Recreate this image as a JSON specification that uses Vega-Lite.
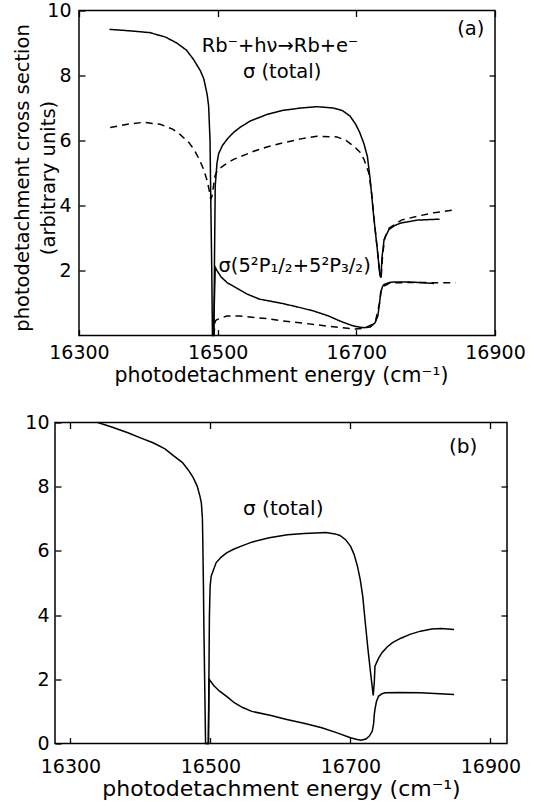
{
  "$schema": "https://vega.github.io/schema/vega-lite/v6.json",
  "padding": {"left": 12, "top": 1.5, "right": 0, "bottom": 0},
  "bounds": "flush",
  "spacing": 87,
  "config": {
    "font": "DejaVu Sans",
    "view": {"stroke": null},
    "axis": {"domain": false, "grid": false, "ticks": true, "tickColor": "black", "tickWidth": 1.3, "tickSize": -6, "labelColor": "black", "labelFontSize": 19, "labelFont": "DejaVu Sans", "titleFont": "DejaVu Sans", "titleFontWeight": "normal", "titleColor": "black", "labelFlush": false, "labelOverlap": false}
  },
  "datasets": {
    "lines_a": [
      {"s":"total","E":16344,"v":9.42},{"s":"total","E":16370,"v":9.38},{"s":"total","E":16402,"v":9.32},{"s":"total","E":16425,"v":9.18},{"s":"total","E":16441,"v":9.0},{"s":"total","E":16455,"v":8.78},{"s":"total","E":16465,"v":8.5},{"s":"total","E":16475,"v":8.15},{"s":"total","E":16480,"v":7.9},{"s":"total","E":16485,"v":7.4},{"s":"total","E":16487,"v":7.05},{"s":"total","E":16489,"v":6.0},{"s":"total","E":16490,"v":4.3},{"s":"total","E":16491.5,"v":2.0},{"s":"total","E":16492.5,"v":0},{"s":"total","E":16494.5,"v":0},{"s":"total","E":16495.5,"v":2.5},{"s":"total","E":16496.5,"v":4.6},{"s":"total","E":16499,"v":5.3},{"s":"total","E":16501.5,"v":5.6},{"s":"total","E":16507,"v":5.85},{"s":"total","E":16514,"v":6.05},{"s":"total","E":16523,"v":6.25},{"s":"total","E":16532,"v":6.4},{"s":"total","E":16547,"v":6.6},{"s":"total","E":16571,"v":6.8},{"s":"total","E":16595,"v":6.93},{"s":"total","E":16620,"v":7.0},{"s":"total","E":16643,"v":7.04},{"s":"total","E":16667,"v":7.0},{"s":"total","E":16680,"v":6.92},{"s":"total","E":16691,"v":6.75},{"s":"total","E":16699,"v":6.5},{"s":"total","E":16705,"v":6.24},{"s":"total","E":16711,"v":5.9},{"s":"total","E":16716,"v":5.5},{"s":"total","E":16720,"v":4.8},{"s":"total","E":16725,"v":3.67},{"s":"total","E":16730,"v":2.7},{"s":"total","E":16734,"v":1.85},{"s":"total","E":16735.5,"v":1.78},{"s":"total","E":16737,"v":2.4},{"s":"total","E":16740,"v":2.95},{"s":"total","E":16747,"v":3.26},{"s":"total","E":16755,"v":3.38},{"s":"total","E":16764,"v":3.46},{"s":"total","E":16788,"v":3.55},{"s":"total","E":16820,"v":3.58},
      {"s":"total_alt","E":16345,"v":6.4},{"s":"total_alt","E":16370,"v":6.5},{"s":"total_alt","E":16393,"v":6.56},{"s":"total_alt","E":16417,"v":6.5},{"s":"total_alt","E":16435,"v":6.35},{"s":"total_alt","E":16446,"v":6.18},{"s":"total_alt","E":16458,"v":5.95},{"s":"total_alt","E":16466,"v":5.72},{"s":"total_alt","E":16474,"v":5.4},{"s":"total_alt","E":16480,"v":5.1},{"s":"total_alt","E":16485,"v":4.75},{"s":"total_alt","E":16488.5,"v":4.4},{"s":"total_alt","E":16490,"v":4.2},{"s":"total_alt","E":16492,"v":4.3},{"s":"total_alt","E":16494,"v":4.6},{"s":"total_alt","E":16496,"v":4.9},{"s":"total_alt","E":16500,"v":5.1},{"s":"total_alt","E":16510,"v":5.25},{"s":"total_alt","E":16523,"v":5.42},{"s":"total_alt","E":16552,"v":5.67},{"s":"total_alt","E":16571,"v":5.8},{"s":"total_alt","E":16595,"v":5.93},{"s":"total_alt","E":16620,"v":6.05},{"s":"total_alt","E":16643,"v":6.13},{"s":"total_alt","E":16672,"v":6.11},{"s":"total_alt","E":16685,"v":6.0},{"s":"total_alt","E":16696,"v":5.83},{"s":"total_alt","E":16705,"v":5.65},{"s":"total_alt","E":16711,"v":5.42},{"s":"total_alt","E":16718,"v":5.0},{"s":"total_alt","E":16722,"v":4.4},{"s":"total_alt","E":16726,"v":3.5},{"s":"total_alt","E":16730,"v":2.7},{"s":"total_alt","E":16734,"v":1.9},{"s":"total_alt","E":16736,"v":1.85},{"s":"total_alt","E":16738,"v":2.5},{"s":"total_alt","E":16741,"v":3.0},{"s":"total_alt","E":16747,"v":3.3},{"s":"total_alt","E":16765,"v":3.55},{"s":"total_alt","E":16788,"v":3.67},{"s":"total_alt","E":16812,"v":3.78},{"s":"total_alt","E":16841,"v":3.86},
      {"s":"partial","E":16494,"v":0},{"s":"partial","E":16496.5,"v":2.1},{"s":"partial","E":16499,"v":2.0},{"s":"partial","E":16505,"v":1.8},{"s":"partial","E":16514,"v":1.62},{"s":"partial","E":16528,"v":1.45},{"s":"partial","E":16542,"v":1.28},{"s":"partial","E":16560,"v":1.12},{"s":"partial","E":16590,"v":1.0},{"s":"partial","E":16615,"v":0.88},{"s":"partial","E":16639,"v":0.75},{"s":"partial","E":16660,"v":0.6},{"s":"partial","E":16677,"v":0.44},{"s":"partial","E":16692,"v":0.32},{"s":"partial","E":16701,"v":0.27},{"s":"partial","E":16711,"v":0.24},{"s":"partial","E":16720,"v":0.26},{"s":"partial","E":16727,"v":0.39},{"s":"partial","E":16731,"v":0.6},{"s":"partial","E":16733.5,"v":1.0},{"s":"partial","E":16735,"v":1.31},{"s":"partial","E":16738,"v":1.52},{"s":"partial","E":16740,"v":1.57},{"s":"partial","E":16749,"v":1.64},{"s":"partial","E":16765,"v":1.65},{"s":"partial","E":16783,"v":1.64},{"s":"partial","E":16812,"v":1.6},
      {"s":"partial_alt","E":16494.5,"v":0},{"s":"partial_alt","E":16496.5,"v":0.45},{"s":"partial_alt","E":16499,"v":0.49},{"s":"partial_alt","E":16513,"v":0.6},{"s":"partial_alt","E":16530,"v":0.6},{"s":"partial_alt","E":16542,"v":0.58},{"s":"partial_alt","E":16570,"v":0.52},{"s":"partial_alt","E":16590,"v":0.46},{"s":"partial_alt","E":16615,"v":0.4},{"s":"partial_alt","E":16639,"v":0.34},{"s":"partial_alt","E":16670,"v":0.26},{"s":"partial_alt","E":16696,"v":0.2},{"s":"partial_alt","E":16711,"v":0.22},{"s":"partial_alt","E":16727,"v":0.38},{"s":"partial_alt","E":16733.5,"v":1.0},{"s":"partial_alt","E":16736,"v":1.4},{"s":"partial_alt","E":16740,"v":1.52},{"s":"partial_alt","E":16749,"v":1.62},{"s":"partial_alt","E":16783,"v":1.63},{"s":"partial_alt","E":16843,"v":1.62}
    ],
    "lines_b": [
      {"s":"total","E":16339,"v":10.0},{"s":"total","E":16360,"v":9.85},{"s":"total","E":16382,"v":9.68},{"s":"total","E":16400,"v":9.52},{"s":"total","E":16418,"v":9.37},{"s":"total","E":16435,"v":9.18},{"s":"total","E":16448,"v":8.95},{"s":"total","E":16460,"v":8.75},{"s":"total","E":16468,"v":8.53},{"s":"total","E":16475,"v":8.3},{"s":"total","E":16481,"v":8.02},{"s":"total","E":16485,"v":7.7},{"s":"total","E":16487,"v":7.49},{"s":"total","E":16488.5,"v":7.0},{"s":"total","E":16489,"v":6.36},{"s":"total","E":16490,"v":4.8},{"s":"total","E":16490.5,"v":3.76},{"s":"total","E":16492,"v":1.5},{"s":"total","E":16493,"v":0},{"s":"total","E":16497,"v":0},{"s":"total","E":16498.5,"v":4.0},{"s":"total","E":16499.5,"v":4.9},{"s":"total","E":16501,"v":5.21},{"s":"total","E":16508,"v":5.63},{"s":"total","E":16515,"v":5.8},{"s":"total","E":16523,"v":5.94},{"s":"total","E":16533,"v":6.05},{"s":"total","E":16544,"v":6.15},{"s":"total","E":16560,"v":6.28},{"s":"total","E":16584,"v":6.41},{"s":"total","E":16610,"v":6.5},{"s":"total","E":16634,"v":6.54},{"s":"total","E":16650,"v":6.56},{"s":"total","E":16665,"v":6.57},{"s":"total","E":16678,"v":6.53},{"s":"total","E":16685,"v":6.48},{"s":"total","E":16693,"v":6.35},{"s":"total","E":16700,"v":6.15},{"s":"total","E":16705,"v":5.9},{"s":"total","E":16710,"v":5.52},{"s":"total","E":16714,"v":5.1},{"s":"total","E":16717.5,"v":4.59},{"s":"total","E":16721,"v":3.8},{"s":"total","E":16725,"v":2.93},{"s":"total","E":16729,"v":2.15},{"s":"total","E":16732.5,"v":1.5},{"s":"total","E":16734,"v":1.9},{"s":"total","E":16735,"v":2.41},{"s":"total","E":16740,"v":2.65},{"s":"total","E":16745,"v":2.83},{"s":"total","E":16752,"v":3.0},{"s":"total","E":16760,"v":3.14},{"s":"total","E":16772,"v":3.28},{"s":"total","E":16785,"v":3.4},{"s":"total","E":16800,"v":3.5},{"s":"total","E":16816,"v":3.57},{"s":"total","E":16830,"v":3.58},{"s":"total","E":16848,"v":3.55},
      {"s":"partial","E":16494,"v":0},{"s":"partial","E":16497,"v":0},{"s":"partial","E":16498,"v":2.0},{"s":"partial","E":16505,"v":1.8},{"s":"partial","E":16513,"v":1.63},{"s":"partial","E":16524,"v":1.45},{"s":"partial","E":16534,"v":1.27},{"s":"partial","E":16546,"v":1.12},{"s":"partial","E":16559,"v":1.0},{"s":"partial","E":16585,"v":0.88},{"s":"partial","E":16609,"v":0.75},{"s":"partial","E":16635,"v":0.62},{"s":"partial","E":16659,"v":0.49},{"s":"partial","E":16680,"v":0.34},{"s":"partial","E":16700,"v":0.18},{"s":"partial","E":16708,"v":0.13},{"s":"partial","E":16715,"v":0.1},{"s":"partial","E":16722,"v":0.14},{"s":"partial","E":16727,"v":0.23},{"s":"partial","E":16731,"v":0.38},{"s":"partial","E":16733,"v":0.6},{"s":"partial","E":16734,"v":0.9},{"s":"partial","E":16735,"v":1.06},{"s":"partial","E":16737,"v":1.3},{"s":"partial","E":16740,"v":1.47},{"s":"partial","E":16745,"v":1.55},{"s":"partial","E":16750,"v":1.58},{"s":"partial","E":16770,"v":1.59},{"s":"partial","E":16800,"v":1.58},{"s":"partial","E":16848,"v":1.53}
    ],
    "text_a": [
      {"label":"Rb⁻+hν→Rb+e⁻","E":16590,"v":8.9},
      {"label":"σ (total)","E":16593,"v":8.1},
      {"label":"(a)","E":16865,"v":9.42},
      {"label":"σ(5²P₁/₂+5²P₃/₂)","E":16611,"v":2.15}
    ],
    "text_b": [
      {"label":"σ (total)","E":16604,"v":7.29},
      {"label":"(b)","E":16861,"v":9.25}
    ]
  },
  "vconcat": [
    {
      "width": 452,
      "height": 325,
      "layer": [
        {
          "data": {"values": [{}]},
          "mark": {"type": "rect", "fill": null, "fillOpacity": 0, "stroke": "black", "strokeWidth": 1.5},
          "encoding": {
            "x": {"datum": 16300, "type": "quantitative", "scale": {"domain": [16265.4, 16917.3], "nice": false, "zero": false}, "axis": {"orient": "top", "values": [16300, 16500, 16700, 16900], "labels": false, "title": null}},
            "x2": {"datum": 16900},
            "y": {"datum": 0, "type": "quantitative", "scale": {"domain": [0, 10], "nice": false, "zero": false}, "axis": {"orient": "right", "offset": -12, "values": [2, 4, 6, 8], "labels": false, "title": null}},
            "y2": {"datum": 10}
          }
        },
        {
          "data": {"name": "lines_a"},
          "mark": {"type": "line", "color": "black", "strokeWidth": 1.5},
          "encoding": {
            "x": {"field": "E", "type": "quantitative", "scale": {"domain": [16265.4, 16917.3], "nice": false, "zero": false}, "axis": {"orient": "bottom", "values": [16300, 16500, 16700, 16900], "format": "d", "labelPadding": 14, "title": "photodetachment   energy (cm⁻¹)", "titleFontSize": 20.5, "titlePadding": 3}},
            "y": {"field": "v", "type": "quantitative", "scale": {"domain": [0, 10], "nice": false, "zero": false}, "axis": {"orient": "left", "offset": -24, "values": [2, 4, 6, 8, 10], "labelFontSize": 19, "labelPadding": 14, "title": ["photodetachment cross section", "(arbitrary units)"], "titleFontSize": 19.5, "titleLineHeight": 26, "titleX": -57, "titleY": 167, "titleBaseline": "middle", "titleAngle": -90}},
            "strokeDash": {"field": "s", "type": "nominal", "scale": {"domain": ["total", "total_alt", "partial", "partial_alt"], "range": [[1, 0], [7, 5], [1, 0], [7, 5]]}, "legend": null}
          }
        },
        {
          "data": {"name": "text_a"},
          "mark": {"type": "text", "fontSize": 19.5, "color": "black", "align": "center", "baseline": "middle"},
          "encoding": {
            "x": {"field": "E", "type": "quantitative", "scale": {"domain": [16265.4, 16917.3], "nice": false, "zero": false}, "axis": null},
            "y": {"field": "v", "type": "quantitative", "scale": {"domain": [0, 10], "nice": false, "zero": false}, "axis": null},
            "text": {"field": "label"}
          }
        }
      ]
    },
    {
      "width": 452,
      "height": 321,
      "view": {"stroke": "black", "strokeWidth": 1.5},
      "layer": [
        {
          "data": {"name": "lines_b"},
          "mark": {"type": "line", "color": "black", "strokeWidth": 1.5},
          "encoding": {
            "x": {"field": "E", "type": "quantitative", "scale": {"domain": [16277.9, 16923.6], "nice": false, "zero": false}, "axis": {"orient": "bottom", "values": [16300, 16500, 16700, 16900], "format": "d", "labelPadding": 20, "title": "photodetachment energy (cm⁻¹)", "titleFontSize": 22, "titlePadding": 2}},
            "y": {"field": "v", "type": "quantitative", "scale": {"domain": [0, 10], "nice": false, "zero": false}, "axis": {"orient": "left", "values": [0, 2, 4, 6, 8, 10], "labelFontSize": 19, "labelPadding": 12, "title": null}},
            "detail": {"field": "s"}
          }
        },
        {
          "data": {"name": "text_b"},
          "mark": {"type": "text", "fontSize": 20, "color": "black", "align": "center", "baseline": "middle"},
          "encoding": {
            "x": {"field": "E", "type": "quantitative", "scale": {"domain": [16277.9, 16923.6], "nice": false, "zero": false}, "axis": {"orient": "top", "values": [16300, 16500, 16700, 16900], "labels": false, "title": null}},
            "y": {"field": "v", "type": "quantitative", "scale": {"domain": [0, 10], "nice": false, "zero": false}, "axis": {"orient": "right", "values": [2, 4, 6, 8], "labels": false, "title": null}},
            "text": {"field": "label"}
          }
        }
      ]
    }
  ]
}
